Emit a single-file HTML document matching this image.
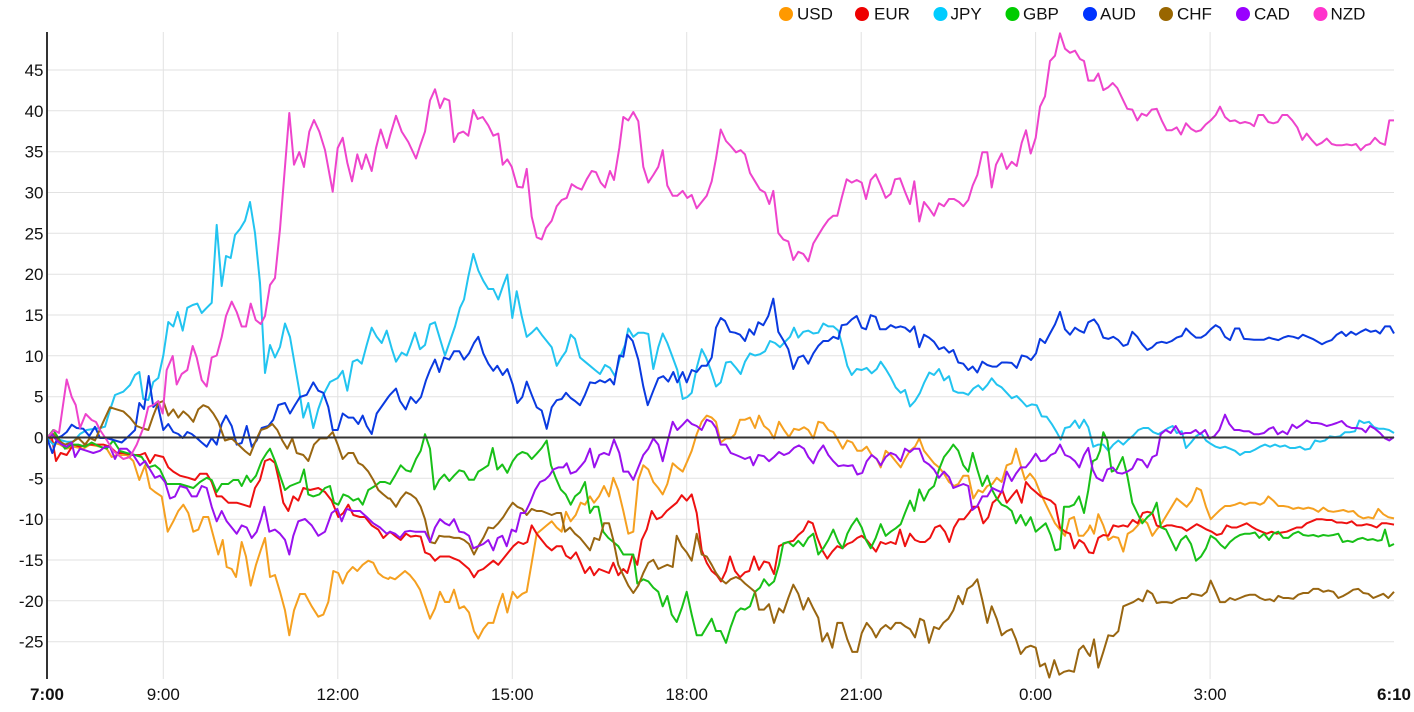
<!DOCTYPE html>
<html><head><meta charset="utf-8"><style>
html,body{margin:0;padding:0;background:#fff;}
svg{display:block;font-family:"Liberation Sans",Arial,sans-serif;}
</style></head><body>
<svg width="1414" height="712" viewBox="0 0 1414 712" xmlns="http://www.w3.org/2000/svg">
<g stroke="#e2e2e2" stroke-width="1">
<line x1="47" y1="70" x2="1394" y2="70"/><line x1="47" y1="110.8" x2="1394" y2="110.8"/><line x1="47" y1="151.7" x2="1394" y2="151.7"/><line x1="47" y1="192.5" x2="1394" y2="192.5"/><line x1="47" y1="233.3" x2="1394" y2="233.3"/><line x1="47" y1="274.2" x2="1394" y2="274.2"/><line x1="47" y1="315" x2="1394" y2="315"/><line x1="47" y1="355.8" x2="1394" y2="355.8"/><line x1="47" y1="396.7" x2="1394" y2="396.7"/><line x1="47" y1="478.3" x2="1394" y2="478.3"/><line x1="47" y1="519.2" x2="1394" y2="519.2"/><line x1="47" y1="560" x2="1394" y2="560"/><line x1="47" y1="600.8" x2="1394" y2="600.8"/><line x1="47" y1="641.7" x2="1394" y2="641.7"/>
<line x1="163.3" y1="32" x2="163.3" y2="679"/><line x1="337.8" y1="32" x2="337.8" y2="679"/><line x1="512.3" y1="32" x2="512.3" y2="679"/><line x1="686.7" y1="32" x2="686.7" y2="679"/><line x1="861.2" y1="32" x2="861.2" y2="679"/><line x1="1035.6" y1="32" x2="1035.6" y2="679"/><line x1="1210.1" y1="32" x2="1210.1" y2="679"/>
</g>
<g font-size="17" fill="#111" text-anchor="end">
<text x="43.5" y="76">45</text><text x="43.5" y="116.8">40</text><text x="43.5" y="157.7">35</text><text x="43.5" y="198.5">30</text><text x="43.5" y="239.3">25</text><text x="43.5" y="280.2">20</text><text x="43.5" y="321">15</text><text x="43.5" y="361.8">10</text><text x="43.5" y="402.7">5</text><text x="43.5" y="443.5">0</text><text x="43.5" y="484.3">-5</text><text x="43.5" y="525.2">-10</text><text x="43.5" y="566">-15</text><text x="43.5" y="606.8">-20</text><text x="43.5" y="647.7">-25</text>
</g>
<g font-size="17" fill="#111" text-anchor="middle">
<text x="47" y="700" font-weight="bold">7:00</text><text x="163.3" y="700">9:00</text><text x="337.8" y="700">12:00</text><text x="512.3" y="700">15:00</text><text x="686.7" y="700">18:00</text><text x="861.2" y="700">21:00</text><text x="1035.6" y="700">0:00</text><text x="1210.1" y="700">3:00</text><text x="1394" y="700" font-weight="bold">6:10</text>
</g>
<g fill="none" stroke-width="2" stroke-linejoin="round">
<polyline stroke="#f5a020" points="47,438 53.3,442.5 60,444.6 66.7,448.7 73.3,446.7 83.3,448.7 90,444.6 100,446.7 106.7,448.7 111.7,457 116.7,455 126.7,455 133.3,461 139.3,480 145,465.3 150,488 155,492 161.7,496.4 167.7,531.7 173.3,521.3 178.3,511 183.3,504.7 188.3,513 193.3,531.7 198.3,529.6 203.3,517 208.3,517 213.3,535.8 218.3,554.5 222.7,540 226.7,567 231.7,569 236,577 241.7,542 246,556.5 250.7,585.6 256,564.8 260.7,550.3 265,538 270,577 275,575 280,591.8 285,610.4 289.3,635.3 294,610.4 300,594 305,594 311.7,606.3 318.3,616.7 323.3,614.6 328.3,602 333.3,571 338.3,573 342.7,583.5 347.3,573 352.7,567 357.3,571 362.7,564.8 368.3,560.7 373.3,562.8 378.3,573 383.3,577 388.3,579 390,577.3 395,579.3 400,575.2 405,571 410,575.2 415,581.4 420,589.7 425,604.2 430,618.7 435,608.4 440,591.8 445,602 449.3,602 454,589.7 459.3,608.4 464,606.3 469,612.5 474,631.2 478.3,638.6 483.3,629 488.3,622.9 493.3,622.9 498.3,606.3 502.7,593.8 507.3,612.5 512.7,591.8 517.3,598 522.3,593.8 526.7,591.8 531.7,562.8 536.7,533.7 541.7,529.6 546.7,525.4 551.7,521.3 556.7,527.5 561.7,531.7 566,511.8 570.7,521.3 575.7,515 580.7,502.7 585,504.7 590,496.4 594,502.7 599,496.4 604,486 609,496.4 613.3,477.8 618.3,490.2 623.3,510.9 628.3,533.7 633.3,531.7 638.3,479.8 643.3,465.3 648.3,469.5 653.3,482 658.3,488 662.7,494.4 667.3,484 672.7,463.3 677.3,467.4 682.7,471.6 687.3,461.2 691.7,450.8 696.7,434.2 701.7,421.8 706.7,415.6 711.7,417.6 716,421.8 720.7,442.5 726,438.4 730.7,438.4 735,434.2 740,419.7 745,419.7 750,417.6 755,428 759,415.6 764,426 769,430 774,438.4 779,421.8 784,430 789,437 794,428.8 799,430 804,427.2 808.3,430 813.3,438.4 818.3,421.8 823.3,423 828.3,430 833.3,432 838.3,440.5 842.7,448.7 847.3,440.5 852.3,442.5 857.3,450.8 861.7,450.8 866.7,446.7 871.7,455 876.7,459 880.7,467.4 885.7,450.8 890.7,455 895.7,461.2 900.7,467.4 905,459 910,450.8 915,446.7 919.3,438.4 924,450.8 929,457 934,463.3 939,467.4 944,473.6 949,482 954,486 958.3,484 963.3,475.7 968.3,475.7 973.3,498.5 978.3,490.2 982.7,492.3 987.3,486 992.3,484 996.7,477.8 1001.7,482 1006.7,465.3 1011.7,463.3 1016,448.7 1020.7,465.3 1025,479.8 1030,473.6 1035,479.8 1040,492.3 1045,502.7 1050,513 1055,523.3 1060,529.6 1065,535.8 1069.3,519.2 1074,517 1078.7,535.8 1083.3,535.8 1088.3,529.6 1090,525.4 1094,533.7 1098.3,514.2 1103.3,525.4 1108.3,540 1113.3,536.6 1118.3,537.9 1123.3,551.6 1127.7,533.7 1132.7,530.8 1137.7,525.4 1142.7,519.2 1147.3,523.3 1152.3,535.8 1156.7,529.6 1161.7,523.3 1166.7,515 1171.7,506.8 1176.7,498.5 1181.7,502.7 1186.7,506.8 1191.7,500.6 1196.7,488 1201,490.2 1206,506.8 1210.7,519.2 1215.7,514.2 1220,510 1225,506 1230,506 1235,504.7 1240,502.7 1245,504.7 1250,502.7 1255,502.7 1260,504.7 1264,502.7 1268.3,496.4 1273.3,500.6 1278.3,506 1283.3,506 1288.3,506.8 1293.3,508.9 1298.3,507.6 1303.3,508.9 1308.3,507.6 1313.3,508.9 1318.3,511.8 1323.3,507.6 1328.3,511 1333.3,511.8 1338.3,511 1343.3,510 1348.3,511.8 1353.3,511 1358.3,515.9 1363.3,518.4 1368.3,517.2 1373.3,518.4 1378.3,508.9 1383.3,514.2 1388.3,517.2 1394,518.4"/>
<polyline stroke="#ee1111" points="47,438 52,438.4 56,461 60.7,453 66.7,455 73.3,444.6 80,446.7 86.7,444.6 95,444.6 103.3,444.6 110,446.7 116.7,453 123.3,453 131.7,455 140,455 145,453 150,463 155,455 163.3,457 168.3,467.4 173.3,471.6 180,475.7 188.3,477.8 195,480 200,473.7 206.7,473.7 211.7,482 216.7,496.4 221.7,496.4 228.3,502.7 236.7,502.7 243.3,504.7 250,506.8 255,488 260,480 265,461 270,459 275,463 279.3,482 283.3,502.7 288.3,511 293.3,496.4 298.3,500.6 303.3,488 310,490 318.3,488 325,492 331.7,500.6 338.3,517 343.3,513 348.3,504.7 353.3,515 360,517 365,517 371.7,525.4 378.3,529.6 383.3,538 390,531.7 396,536.6 400.7,540 406,533.7 410.7,536.6 416,535.8 420.7,536.6 425,552.4 430,554.5 435,560.7 440,556.5 445,556.5 449.3,556.5 454,558.6 459.3,560.7 464,564.8 469,569 474,577.3 478.3,571 483.3,569 488.3,564.8 493.3,560.7 498.3,564.8 503.3,558.6 508.3,552.4 513.3,546.2 518.3,542 523.3,544 527.3,542 531.7,525.4 536.7,533.7 541.7,540 546.7,546.2 551.7,550.3 556.7,546.2 561.7,546.2 566,555.7 570.7,558.6 576,552.4 580.7,562.8 585,573 590,566.9 594,575.2 599,569 604,571 609,573 613.3,562.8 618.3,575.2 623.3,569 627.3,573 632.7,554.5 637.3,564.8 641.7,540 646.7,529.6 651.7,511 656.7,519.2 661.7,517 666.7,511 671.7,506.8 676.7,502.7 681.7,495.2 686.7,500.6 691.7,494.4 696.7,513 701.7,550.3 706.7,562.8 711.7,571 716.7,575.2 721,581.4 726,571 730,556.5 735,571 740,577.3 745,572.3 749.3,571 754,556.5 759,569.8 764,561.5 769,562.8 774,574 779,546.2 783.3,544 788.3,542 793.3,540.8 798.3,535 803.3,530.8 808.3,521.3 812.7,523.3 817.3,537.9 822.3,550.3 827.3,558.6 832.3,551.6 837.3,546.2 842.3,548.3 847.3,544 852.3,542 857.3,537.9 861.7,535.8 866.7,540 871.7,546.2 876,551.6 880.7,542 885.7,544 890.7,542 895.7,544 900,529.6 905,546.2 910,533.7 915,540 920,542 925,542 930,537.9 935,527.5 940,525.4 945,531.7 949.3,542 954,527.5 959,519.2 964,519.2 969,513 973.3,506.8 978.3,506.8 983.3,523.3 988.3,517.2 992.7,502.7 997.7,498.5 1002.3,490.2 1006.7,502.7 1011.7,496.4 1016.7,490.2 1021.7,502.7 1026,482 1031,488 1036,492.3 1040.7,496.4 1045.7,498.5 1050.7,500.6 1055.3,504.7 1060,527.5 1065,531.7 1070,533.7 1074.3,548.3 1079.3,540 1084,543.3 1089,552.4 1093.3,553.2 1098.3,537.9 1103.3,535 1108.3,535.8 1113.3,525.4 1118.3,526.7 1123.3,525.4 1127.7,526.7 1132.7,520 1137.7,523.3 1142.7,513 1147.3,511.8 1152.3,513 1156.7,525.4 1161.7,527.5 1166.7,525.4 1171.7,525.4 1176.7,526.7 1181.7,527.5 1186.7,530.8 1191.7,527.5 1196.7,524.2 1201.7,526.7 1206.7,529.6 1211.7,531.7 1216.7,535 1221.7,533.7 1226.7,525.4 1231.7,527.5 1236.7,527.5 1241.7,525.4 1246.7,523.3 1251.7,526.7 1256.7,529.6 1261.7,531.7 1266.7,533.7 1271.7,531.7 1276.7,533.7 1281.7,532.5 1286.7,531.7 1291.7,529.6 1296.7,527.5 1301.7,527.5 1306.7,523.3 1311.7,521.3 1316.7,519.2 1321.7,519.2 1326.7,520 1331.7,520 1336.7,522.5 1341.7,522.5 1346.7,523.3 1351.7,521.3 1356.7,525.4 1361.7,525.4 1366.7,524.2 1371.7,525.4 1376.7,527.5 1381.7,523.3 1386.7,523.3 1391.7,524.2 1394,524.6"/>
<polyline stroke="#22c4f0" points="47,438 53.3,444.6 60,440 66.7,441.7 73.3,441.7 80,434 86.7,430 93.3,429 100,428 105,426.7 110,410 115,395 123.3,391.7 130,385 135,375 139.3,372 143.3,399 148.3,400 153.3,382 158.3,378 163.3,355.5 168.3,322 173.3,326.5 177.7,312 182.7,330.6 187.3,307.8 192.7,305 197.3,303.6 201.7,313 206.7,307.8 211.7,302.8 216.7,224.9 221.7,286 226,256 230.7,258 235,235 240,229 245,220.7 250,202 255,233 260,283 265,373 270,345 275,357.5 280,347 285,323.5 290,337 295,366 299.3,390.7 303.3,417.6 308.3,403 313.3,428 318.3,409 323.3,394.8 330,382 337.7,378 342.7,370.8 347.3,390.7 352.7,361.7 357.3,359.6 361.7,363.7 366.7,345 371.7,327.7 376.7,336.8 381.7,343 386.7,330.6 391.7,348.4 396,361.7 401.7,352.6 406.7,355.5 410.7,345 415,332.7 420,349.2 425,345 430,324.4 435,322.3 440,338.9 445,355.5 450,341 455,326.5 460,307.8 464,299.5 468.3,276.7 473.3,253.9 478.3,270.5 483.3,280.8 488.3,289 493.3,289 498.3,299.5 503.3,285 507.3,274.6 512.3,318 516.7,291.2 521.7,316 526.7,336.8 531.7,332.7 536.7,327.7 541.7,334.7 546.7,341 551.7,347.2 556.7,365.8 561.7,357.5 566,351.3 570.7,334.7 575,338.9 580,357.5 585,361.7 590,365.8 595,370 600,374 605,365 610,367.9 615,376.2 620,357.5 625,345 628.3,328.5 633.3,336.8 638.3,332.7 643.3,332.7 648.3,334 653.3,369 658.3,347.2 662.7,333.5 667.3,343 672.7,357.5 677.3,370 682.7,399 687.3,397 691.7,392.8 696.7,367.9 701.7,349.2 706,357.5 710.7,370 716,386.5 720.7,382.4 726,362.5 730.7,361.7 736,367.9 740.7,374 745,361.7 750,353.4 755,355.5 760,354.2 765,351.3 770,341 775,343 780,347.2 785,341.8 790,336.8 794,327.7 798.3,337.6 803.3,331.8 808.3,330.6 813.3,333.5 818.3,332.7 823.3,323.5 828.3,326.4 833.3,326.4 838.3,330.6 843.3,349.2 847.3,365.8 851.7,375 856.7,369 861.7,370 866.7,367.9 871.7,373.3 876.7,369 880.7,361.7 885.7,369 890.7,377.4 895.7,387.4 900.7,392.8 905,389.9 910,406.5 915,401 920,392.8 924.3,382.4 929.3,372.5 934,375 939,369 944,380.3 949,376.2 953.3,390.7 958.3,392.8 963.3,392.8 968.3,394.8 973.3,388.6 978.3,385.3 982.7,389.9 987.3,384.9 991.7,378.3 996.7,384.5 1001.7,387.4 1006.7,392.8 1011.7,398.2 1016.7,396 1021.7,401 1026.7,406.5 1031.7,404.4 1036.7,405.2 1041.7,416.4 1046.7,416.8 1051.7,423.9 1056.7,432.2 1060.7,439.6 1065,428 1070,426.8 1075,420.5 1079.3,428 1084,419.7 1088.3,427.2 1093.3,446.7 1098.3,444.6 1103.3,444.6 1108.3,450.8 1113.3,444.6 1118.3,440.5 1123.3,444.6 1128.3,439.6 1133.3,435.5 1138.3,430 1143.3,428 1148.3,428 1153.3,432.2 1158.3,434.2 1163.3,431.3 1168.3,428 1172.7,426 1176.7,433 1181.7,431.3 1186,448 1191,442.5 1196,436.3 1201,433 1206,440.5 1210.7,443.8 1215.7,446.7 1220,448 1225,446.7 1230,448.7 1235,450.8 1240,455 1245,452 1250,452 1255,449.6 1260,446.7 1265,444.6 1270,446.7 1275,444.6 1280,446.7 1285,445.5 1290,448 1295,448 1300,446.7 1305,449.6 1310,448.7 1315,440.5 1320,441.7 1325,440.5 1330,436.3 1335,437.1 1340,436.3 1345,432.2 1350,432.2 1355,431.3 1359.3,420.5 1364,423 1369,421.8 1374,427.2 1379,428.8 1384,428.8 1389,430 1394,433"/>
<polyline stroke="#18c018" points="47,438 53.3,430 58.3,438 65,448.7 71.7,444.6 78.3,444.6 85,446.7 91.7,442.5 100,446.7 106.7,448.7 113.3,440.5 120,451 126.7,453 135,455 141.7,457 148.3,467.4 155,465.3 160,469.5 166.7,484 173.3,484 180,484 186.7,486 193.3,488 200,482 206.7,477.8 211.7,480 216.7,492 221.7,484 228.3,484 233.3,480 238.3,480 241.7,486 246.7,475.7 250.7,482 256,475.7 261.7,461 266.7,453 270,448.7 275,461 280,475.7 285,490 290,486 295,484 300,482 304,469.5 308.3,494.4 313.3,496.4 319.3,494.4 325,488 330,486 334,502.7 338.3,504.7 343.3,494.4 348.3,496.4 353.3,500.6 358.3,498.5 362.7,504.7 368.3,490 375,486 380,482 385,482 390,484 395,475.7 400.7,465.3 406,470.3 410.7,471.6 416,459 420.7,450.8 425,434.2 430,448.7 434.3,489.4 439.3,479.8 444.3,474.5 449.3,481 454,475.7 459.3,470.3 464,471.6 469,479.8 474,479.8 478.3,471.6 483.3,468.6 488.3,465.3 492.7,448 497.3,469.5 502.3,464.5 507.3,472.8 512.7,461.2 517.3,455 522.3,452 527.3,453.7 531.7,459 536.7,453.7 541.7,448 546.7,440.5 551,465.3 555.7,477.8 560.7,489.4 565.7,494.4 570.7,504.7 575,496.4 580,492.3 585,482 590,513 594,506.8 598.3,506.8 603.3,531.7 608.3,537.9 613.3,542 618.3,546.2 623.3,554.5 628.3,554.5 633.3,554.5 637.3,583.5 643.3,579.3 648.3,581.4 653.3,587.6 658.3,591.8 662.7,606.3 667.3,596 671.7,614.6 676.7,622 681.7,608.4 686.7,591.8 691.7,614.6 696.7,635.3 701.7,635.3 706.7,627 711.7,618.7 716,631 720.7,631 726,642.8 730.7,627 736,612.5 740.7,608.4 745,609.6 750,606.3 755,591.8 760,587.6 764,579.3 769,585.6 774,581.4 779,564.8 783.3,543.3 788.3,542 793.3,546.2 798.3,540.8 803.3,546.2 808.3,537.9 813.3,533.7 818.3,554.5 823.3,548.3 828.3,540 833.3,529.6 838.3,542 842.7,548.3 847.3,533.7 851.7,525.4 856.7,518.4 861.7,527.5 866,540 870.7,548.3 875.7,537.9 880.7,524.2 885.7,535.8 890.7,531.7 895.7,528.3 900.7,524.2 905,513 910,500.6 914.3,511 919.3,489.4 924,500.6 929,490.2 934,486 939,469.5 944,457 949,450.8 953.3,444.6 958.3,450.8 963.3,465.3 968.3,471.6 972.7,452.9 977.3,469.5 982.3,486 987.3,475.7 992.3,490.2 996.7,498.5 1001.7,504.7 1006.7,506.8 1011.7,511 1016,523.3 1020.7,515 1025.7,525.4 1030.7,517.2 1035.7,531.7 1040.7,527.5 1045.7,523.3 1050.7,535 1055.3,550.3 1060,549 1064,506.8 1069,506.8 1074,504.7 1079,496.4 1084,513 1088.3,490.2 1092.7,461.2 1096.7,459 1100,450.8 1103.3,432.2 1107.3,440.5 1111.7,471.6 1116.7,469.5 1122.7,457 1127.3,475.7 1132.3,502.7 1137.3,513 1142.3,523.3 1147.3,517.2 1152.3,513 1156.7,502.7 1161,527.5 1166,529.6 1171,540 1176,550.3 1181,540 1186,535.8 1191,544 1196,560.7 1201,556.5 1206,548.3 1210.7,535.8 1215.7,539 1220.7,544.9 1225,548.3 1230,542 1235,537.9 1240,535 1245,533.7 1250,533.7 1255,532.5 1259.3,537.9 1264,533.7 1269,540 1273.3,533.7 1278.3,531.7 1283.3,537.9 1288.3,537.9 1293.3,533.7 1298.3,531.7 1303.3,535 1308.3,535.8 1313.3,535 1318.3,536.6 1323.3,535 1328.3,535.8 1333.3,535 1338.3,533.7 1342.7,542 1347.7,540.8 1352.7,542 1357.7,539.1 1362.7,537.9 1367.7,540 1372.7,539.1 1377.7,540.8 1381.7,540 1385,529.6 1389.3,546.2 1394,544"/>
<polyline stroke="#0a3ae0" points="47,438 52.3,453 57.3,438 61.7,436 66.7,432 71.7,424.7 76.7,428 83.3,428.8 89.3,436 95,426.8 100,438 106.7,438 115,440.5 121.7,442.5 126.7,438 135,430 139.3,403 144,409 148.7,376 153.3,407 157.3,403 163.3,430 168.3,424 173.3,432 178.3,434 182.7,438 187.3,432 191.7,434 196.7,438 201.7,442.5 206.7,446.7 211.7,438 216.7,444.6 221.7,424 226,415.6 231.7,426 236.7,444.6 241.7,443 246.7,426 251.7,446.7 256.7,440.5 261.7,428 268.3,426 273.3,419.7 278.3,405 285,403 290,413.5 295,405 300,397 306.7,394.8 313.3,382.4 318.3,390.7 323.3,392.8 328.3,407 332.7,430 337.7,430 342.7,413.5 348.3,417.6 353.3,417.6 358.3,424 362.7,415.6 366.7,426 371.7,434 376.7,413.5 382.7,405 388.3,397 390,394.8 396,388.6 400,401 405.7,409.4 410.7,397 416,403 421,397 426,380.3 430,370 435,359.6 439.3,372 444,357.5 449.3,359.6 454,351.3 459.3,351.3 464,359.6 469,353.4 474,343 478.3,336.8 483.3,353.4 488.3,363.7 493.3,370.8 497.3,365.8 502.7,375 507.3,369 512.7,384.5 517.3,403 522.3,397 526.7,381.6 531.7,394.8 536.7,407.3 541.7,410.6 546.7,428.8 551.7,407.3 556.7,400.2 561.7,399 566,392.8 570.7,398 575,401 580,405.2 585,394.8 590,382.4 595,383.2 600,380.3 605,382.4 610,379 614,384.5 619.3,355.5 623.3,356.7 627.3,334.7 632.7,341 638.3,359.6 643.3,386.5 647.7,405.2 653.3,390.7 658.3,378.3 663.3,376.2 668.3,381.6 673.3,372 677.3,382.4 682.7,372 686.7,382.4 691.7,370 696.7,372 701.7,365.8 706.7,365.8 711.7,357.5 716,327.7 720.7,318 725,321 730,331.8 735,332.7 740,334.7 745,341 749.3,329.3 754,334.7 758.3,322.3 763.3,325.2 768.3,316 773.3,298.7 778.3,331.8 783.3,340.1 788.3,349.2 793.3,369 798.3,357.5 803.3,355.5 808.3,363.7 813.3,353.4 818.3,345.9 823.3,341 828.3,341 833.3,336.8 838.3,338.9 841.7,325.2 846.7,324.4 851.7,319.4 856.7,316 861.7,327.7 866,329.3 870.7,315.2 875.7,316.9 880,329.3 885.7,329.3 890.7,325.2 895.7,327.7 900.7,326.4 905,327.7 910,331.8 914.3,326.4 919.3,347.2 924,334.7 929,337.6 934,341.8 939,349.2 944,347.2 949,352.6 953.3,350 958.3,362.5 963.3,363.7 968.3,370 972.7,366.6 977.3,372.5 982.3,361.7 987.3,365 992.3,366.6 996.7,366.6 1001.7,362.5 1006.7,362.5 1011.7,362.9 1016.7,367.9 1021.7,355.5 1026.7,356.7 1031,360 1036,353.4 1040,338.9 1045,343 1050,333.5 1055,324.4 1060,311.9 1065,329.3 1070,334.7 1075,327.7 1079.3,330.6 1084,332.7 1088.3,322.3 1094,319.4 1098.3,325.2 1103.3,337.6 1108.3,338.9 1113.3,336.8 1118.3,340.1 1123.3,345.9 1127.7,344.3 1132.3,331.8 1137.3,336.8 1142.3,344.3 1147.3,350 1152.3,347.2 1156.7,343 1161.7,341.8 1166.7,343 1171.7,341 1176.7,337.6 1181.7,336 1186,328.5 1191,333.5 1196,337.6 1201,337.6 1205.7,334.7 1210.7,329.3 1215.7,325.2 1220,327.7 1225,336.8 1230,340.1 1235,328.5 1239.3,328.5 1244,338.9 1249,339.3 1254,339.7 1259,339.7 1264,339.7 1269,337.6 1273.3,338.9 1278.3,340.1 1283.3,337.6 1288.3,336 1293.3,336.8 1298.3,338.5 1302.7,334.7 1307.7,336.8 1312.7,338.9 1317.7,341.8 1322,344.3 1326.7,341.8 1331.7,340.1 1336.7,334.7 1341.7,331.8 1346,336 1351,331.8 1356,334.7 1360.7,331.8 1365.7,329.3 1370.7,331.8 1375.7,330.6 1380,333.5 1385,326.4 1390,326.4 1394,333.5"/>
<polyline stroke="#996611" points="47,438 53.3,434 58.3,440.5 65,444.6 71.7,442.5 78.3,438 85,444.6 90,438 95,440.5 103.3,421.8 110,407.3 116.7,409.4 123.3,411.4 130,417.6 136.7,426 141.7,428 148.3,430 153.3,415.6 158.3,403 163.3,401 168.3,415.6 173.3,409.4 178.3,417.6 183.3,411.4 188.3,415.6 193.3,421.8 198.3,409.4 203.3,405.2 208.3,407.3 213.3,413.5 218.3,421.8 225,440.5 231.7,438.4 238.3,444.6 245,451 250,455 255,442.5 260.7,430 266.7,428 272.3,424 277.3,430 282.3,440.5 287.3,448.7 292.3,438.4 296.7,453 303.3,455 308.3,461 314,444.6 320,438.4 326.7,438.4 332.7,432 337.7,444.6 342.7,459 348.3,453 353.3,453 358.3,463 362.7,465.3 368.3,471.6 373.3,480 378.3,490 383.3,494.4 388.3,498.5 390,498.5 396,506.8 400.7,498.5 406,492.3 410.7,494.4 416,498.5 420.7,506.8 425,519.2 430,542 435,543.3 439.3,535.8 444.3,536.6 449.3,536.6 454,537.9 459.3,537.9 464,540 469,544 474,554.5 478.3,546.2 483.3,537.9 488.3,527.5 493.3,528.3 498.3,523.3 503.3,517 508.3,508.9 512.7,502.7 517.3,506.8 522.3,508.9 526.7,515 531.7,508.9 536.7,511 541.7,511 546.7,513 551.7,515 556.7,513 561,513 565,531.7 570,527.5 575,533.7 580,537.9 585,544 590,550.3 594.3,538 599.3,540 604,523.3 609,523.3 613.3,540 618.3,564.8 623.3,575.2 628.3,585.6 633.3,593 638.3,585.6 643.3,573 648.3,562.8 653.3,559.8 658.3,569 662.7,566.9 667.3,564.8 672.7,567 676.7,535.8 681.7,546.2 686.7,552.4 691.7,560.7 696.7,533.7 701.7,554.5 706.7,556.5 711.7,564.8 716,573 720.7,579.3 726,583.5 730.7,579.3 736,577 740.7,579.3 745,583.5 750,587.6 755,591.8 759,609.6 764,609.6 769,604.2 774,622.9 779,608.4 783.3,612.5 788.3,598 793.3,584.7 798.3,593.8 803.3,609.6 808.3,598 813.3,608.4 818.3,617.9 822.3,641.5 827.3,633.2 832.3,647.7 837.3,622.9 842.3,622.9 847.3,639.4 852.3,651.9 857.3,651.9 861.7,633.2 866.7,622.9 871.7,629.1 876,637.4 880.7,629.1 885.7,625 890.7,629.1 895.7,622.9 900.7,622.9 905,626.2 910,629.1 915,637.4 920,618.7 924,620.8 929,642.8 934,627 939,629.1 943.3,622.9 948.3,618.7 953.3,610.4 958.3,595.9 962.7,604.2 967.3,588.9 972.3,585.6 977.3,579.3 982.3,600 987.3,622.9 991.7,606.3 996.7,618.7 1001.7,635.3 1006.7,631.2 1011.7,629.1 1016,639.4 1020.7,654 1025.7,647.7 1030.7,645.7 1035.7,647.7 1040,666.4 1045,663.5 1049.3,677.6 1054.3,660.2 1059.3,674.7 1064,671.8 1069,670.5 1074,671.8 1079,649.8 1083.3,645.7 1088.3,654 1090,656 1094,639.4 1098.3,667.6 1103.3,651.9 1108.3,635.3 1113.3,636.1 1118.3,631.2 1123.3,606.3 1128.3,604.2 1133.3,602.1 1138.3,598.8 1142.7,601.3 1147.3,590.5 1152.3,593.8 1156.7,603 1161.7,602.1 1166.7,602.1 1171.7,603 1176.7,600 1181.7,598 1186.7,598 1191.7,593.8 1196.7,594.7 1201.7,595.9 1206.7,591.8 1210.7,580.6 1215.7,591.8 1220,602.1 1225,602.1 1230,598 1235,600 1240,598 1245,595.9 1250,594.7 1255,594.7 1260,598 1265,600 1270,599.2 1274,601.3 1278.3,595.9 1283.3,598 1288.3,598 1293.3,598.8 1298.3,594.7 1303.3,593 1308.3,593 1313.3,588.9 1318.3,588.9 1323.3,591.8 1328.3,590.5 1333.3,591.8 1338.3,598 1343.3,595.9 1348.3,593 1353.3,589.7 1358.3,588.9 1363.3,593 1368.3,593.8 1373.3,598 1378.3,595.9 1383.3,593.8 1388.3,598 1394,591.8"/>
<polyline stroke="#9911ee" points="47,438 51.7,434 56.7,440.5 61.7,444.6 66.7,446.7 71.7,442.5 75,457 80,448.7 86.7,450.8 93.3,453 100,450.8 105,446.7 110,446.7 115,459 120,448.7 126.7,448.7 133.3,455 140,465.3 145,461 150,469.5 155,477.8 160,475.7 165,482 170,498.5 175,496.4 180,486 186.7,488 191.7,496.4 196.7,496.4 201.7,486 206.7,488 211.7,506.8 216.7,521.3 221.7,511 226.7,521.3 231.7,527.5 236.7,533.7 241.7,525.4 246.7,527.5 251.7,538 256.7,531.7 261,519 264.3,506.8 269.3,531.7 275,529.6 280,533.7 285,539.9 289.3,554.5 293.3,535.8 298.3,521.3 305,519 311.7,525.4 318.3,535.8 325,531.7 331.7,513 337.3,508.9 341.7,521.3 346.7,508.9 353.3,511 360,511 366.7,517 373.3,523.3 380,527.5 386.7,533.7 390,531.7 395,533.7 400,537.9 405,531.7 410,530.8 415,531.7 420,531.7 425,531.7 430,542 435,527.5 440,519.2 445,523.3 449.3,525.4 454,519.2 459.3,531.7 464,532.5 469,535.8 473.3,548.3 478.3,546.2 483.3,544 488.3,540 493.3,550.3 497.7,538 502.3,535.8 506.7,546.2 511.7,529.6 516,531.7 520.7,513 525,513 530,502.7 535,490.2 540,482 545,479.8 549.3,475.7 553.3,469.5 558.3,467.4 563.3,467.4 566.7,463.3 570.7,473.6 576,471.6 580.7,466.2 585,461 590,448.7 594.3,467.4 599.3,455 604,452.9 609,455 614,439.6 619.3,452.9 623.3,471.6 628.3,471.6 633.3,479.8 638.3,467.4 643.3,455 648.3,448.7 653.3,438.4 658.3,444.6 662.7,461.2 667.3,442.5 672.7,421.8 677.3,430 682.7,424.7 687.3,419.7 691.7,423.9 696.7,426 701.7,430 706.7,419.7 711.7,421.8 716,428 720.7,444.6 726,444.6 730.7,452.9 736,455 740.7,457 745,459 750,457 753.3,465.3 758.3,455 764,456.2 769,461.2 774,457 779,452 784,455 789,452.9 794,447.9 799,445.4 804,448.7 808.3,457 813.3,463.3 818.3,452 823.3,445.4 828.3,455 833.3,461.2 838.3,466.2 843.3,465.3 848,466 852.7,465.3 857.3,474.5 862.3,472.8 866.7,461.2 871.7,455 876.7,459 880.7,465.3 885.7,457 890.7,452.9 895.7,455 900.7,461.2 905,448.7 910,452 914,448.7 919.3,448.7 924,461.2 929,464.5 934,469.5 939,477.8 944,471.6 949,477 953.3,488 958.3,486 963.3,484 968.3,486 972.3,510 977.3,506 982.3,496.4 987.3,496.4 992.3,488 996.7,490.2 1001.7,492.3 1006.7,471.6 1011.7,481 1016,473.6 1020.7,467.4 1025.7,467.4 1030.7,461.2 1035.7,453.7 1040.7,461.2 1045.7,460.4 1050.7,455 1055.3,452.9 1060,444.6 1065,455 1070,457 1075,461.2 1079.3,467.4 1084,455 1088.3,447.9 1092.7,469.5 1096.7,477.8 1102.7,481 1107.3,469.5 1112.7,467.4 1117.3,472.8 1122.3,473.6 1127.3,471.6 1132.3,468.6 1137.3,459 1142.3,460.4 1147.3,467.4 1152.3,457 1156.7,455 1160.7,434.2 1165.7,430 1170.7,433 1175.7,426 1180.7,434.2 1185.7,433 1190.7,433 1195.7,430 1200,434.2 1205,430 1209.3,438.4 1214.3,436.3 1219.3,430 1225,414.7 1229.3,423.9 1234.3,430 1239.3,430 1244,431.3 1249,431.3 1254,434.2 1259,434.2 1264,433 1269,428.8 1273.3,427.2 1277.7,434.2 1282.7,431.3 1287.3,434.2 1292.3,424.7 1296.7,428 1301.7,424.7 1306.7,420.5 1311.7,423 1316.7,423 1321.7,423.9 1326.7,426 1331.7,424.7 1336.7,423 1341.7,421 1346.7,426 1351.7,428 1356.7,428 1361.7,428.8 1365.7,432.2 1370,426 1375,428.8 1380,433 1385,438.4 1389.3,440.5 1394,437"/>
<polyline stroke="#ee44cc" points="47,438 54,430 59,433 66.7,379.5 71.7,397 75.7,405 80,428 85.7,414 91.7,420 96,422 100,430 106.7,440 113.3,451 123.3,459 130,457 136.7,444.6 143.3,428 148.3,407 153.3,405 158.3,401 162.7,413.5 166.7,370 172.7,356 176.7,384.5 181.7,374 187.3,370 192.7,346 196.7,357.5 201.7,380 206.7,386.5 211.7,357.5 216.7,355.5 221.7,337 226,316 231.7,301.6 236.7,312 241.7,326.5 246,326.5 250.7,303.6 255.7,320 260.7,324 265,316 270,285 275,278 280,229 284,179 289.3,113 294,164.7 299.3,152 304,167 309.3,131.6 314,120 319.3,131.6 325,150 332.7,191.7 337.7,148 342.7,137.8 347.3,162.7 352,181.3 357.3,154.4 361.7,169 366,154.4 371.7,171 376,148 380.7,129.5 386.7,148 390,135.7 396,115.8 401.7,131.6 408.3,142 416,158.5 420,146 425,131.6 430,100.5 435,89.3 440,108 444.3,98.4 449.3,100.5 454,142 458.3,133.6 463.3,131.6 468.3,135.7 473.3,110 477.7,119 482.7,117 488.3,125.4 493.3,135.7 498.3,133.6 502.7,164.7 507.3,159.4 511.7,166.8 517.3,186.7 522.7,187.5 526.7,168.9 531.7,216.6 536.7,237.3 541.7,239.4 546,228 551.7,220.7 556.7,206.2 561.7,200 566.7,197.9 571.7,184.2 576.7,187.5 581.7,189.6 586.7,179.3 591.7,171 596,172.2 600.7,182.6 605,187.5 610,171 614,180 619.3,148 623.3,117 628.3,120.4 633.3,112 638.3,121.2 643.3,166.8 648.3,182.6 653.3,175 658.3,166.8 662.7,150.2 667.3,185.5 672.7,195.8 677.3,195.8 682.7,190.9 687.3,197.9 691.7,195 696.7,208.3 701.7,202 706.7,195.8 711.7,181.3 716,158.5 720.7,129.5 726,141 730.7,146 736,152.3 740.7,150.2 745,154.4 750,173 755,181.3 760,189.6 765,192.5 769.3,204 773.3,190.9 778.3,233 783.3,239.4 788.3,241.4 793.3,260 798.3,251.8 803.3,253.9 808.3,261.3 813.3,243.5 818.3,235.2 823.3,227 828.3,219.9 833.3,215.7 837.3,215.7 841.7,197.9 846.7,179.3 851.7,182.6 856.7,180 861.7,182.6 866,199 870.7,180 875.7,174.3 880.7,185.5 885.7,197.9 890.7,193.8 895,179.3 900,178.4 905,191.7 910,204 914.3,181.3 919.3,221.5 924,202 929,208.3 934,215.7 939,203.3 944,206.2 949,199 954,199 959,202 963.3,206.2 968.3,200 972.7,185.5 977.3,175 982.3,152.3 987.3,152.3 991.7,187.5 996,164.7 1001.7,153.5 1006.7,168.9 1011.7,161.8 1016.7,166 1021.7,142.8 1026,130.3 1030.7,153.5 1035.7,137.8 1040,106.7 1045,96.3 1050,61.1 1055,55.7 1060,33.3 1065,48.7 1070,52.8 1075,50.7 1080,59 1084,61 1088.3,80.6 1094,80.6 1098.3,73.5 1103.3,90.1 1108.3,87.2 1112.7,83 1117.3,88 1122.3,98.4 1127.3,108.8 1132.3,109.6 1137.3,120.4 1141.7,113.7 1146.7,115.8 1151.7,109.6 1156.7,108.8 1161.7,120.4 1166.7,130.3 1171.7,130.3 1176.7,127.4 1181,134.5 1186,123.3 1191,128.7 1196,131.6 1200.7,130.3 1205.7,124.5 1210.7,120.4 1215.7,115 1220,106.7 1225,117 1230,121.2 1235,120.4 1240,123.3 1245,122 1250,123.3 1254,126.2 1258.3,115 1263.3,115 1268.3,122 1273.3,123.3 1277.7,122 1282.3,115 1287.3,115 1292.3,120.4 1297.3,127.4 1302.3,139.9 1306.7,133.6 1311.7,139.9 1316.7,145.3 1321.7,142.8 1326.7,138.6 1331.7,144 1336.7,145.3 1341.7,145.3 1346.7,144.4 1351.7,145.3 1356,144 1360.7,150.2 1365.7,145.3 1370,144 1375,137.8 1380,142.8 1385,144.8 1389.3,120.4 1394,120.4"/>
</g>
<line x1="47" y1="437.5" x2="1394" y2="437.5" stroke="#333" stroke-width="2"/>
<line x1="47" y1="32" x2="47" y2="679" stroke="#333" stroke-width="2"/>
<g font-size="17" fill="#111">
<circle cx="786" cy="14" r="7" fill="#ff9900"/><text x="797" y="19.5">USD</text>
<circle cx="862" cy="14" r="7" fill="#ee0000"/><text x="874" y="19.5">EUR</text>
<circle cx="940.5" cy="14" r="7" fill="#00ccff"/><text x="950.5" y="19.5">JPY</text>
<circle cx="1012.5" cy="14" r="7" fill="#00cc00"/><text x="1023" y="19.5">GBP</text>
<circle cx="1090" cy="14" r="7" fill="#0033ff"/><text x="1100" y="19.5">AUD</text>
<circle cx="1166" cy="14" r="7" fill="#996600"/><text x="1177" y="19.5">CHF</text>
<circle cx="1243" cy="14" r="7" fill="#9900ff"/><text x="1254" y="19.5">CAD</text>
<circle cx="1320.5" cy="14" r="7" fill="#ff33cc"/><text x="1330.5" y="19.5">NZD</text>
</g>
</svg>
</body></html>
